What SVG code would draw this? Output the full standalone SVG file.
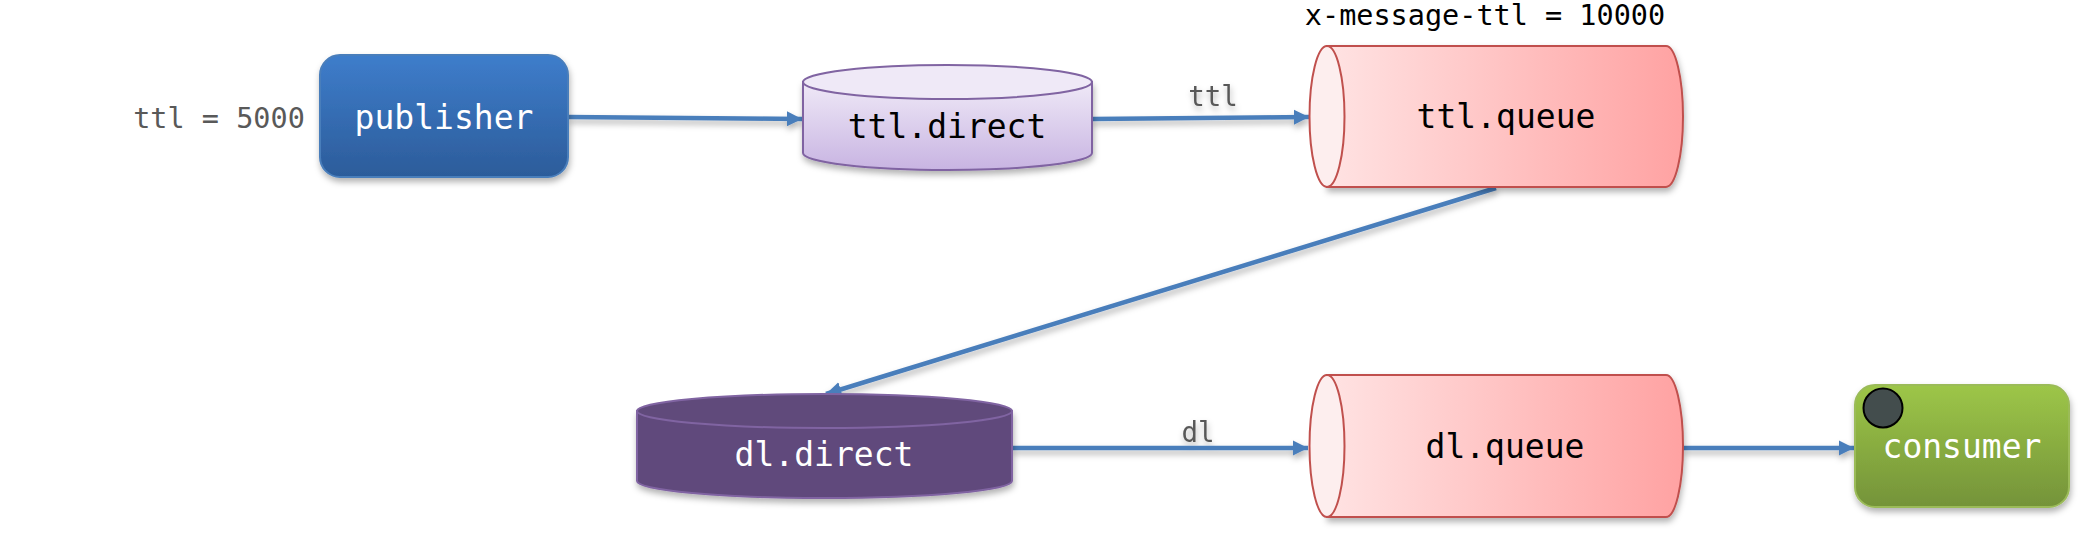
<svg xmlns="http://www.w3.org/2000/svg" width="2092" height="548" viewBox="0 0 2092 548">
<defs>
<linearGradient id="gPub" x1="0" y1="0" x2="0" y2="1"><stop offset="0" stop-color="#3e7dcb"/><stop offset="1" stop-color="#2c5c9a"/></linearGradient>
<linearGradient id="gTd" x1="0" y1="0" x2="0" y2="1"><stop offset="0" stop-color="#efe9f7"/><stop offset="1" stop-color="#c8b4e2"/></linearGradient>
<linearGradient id="gQ" x1="0" y1="0" x2="1" y2="0"><stop offset="0" stop-color="#ffe3e3"/><stop offset="1" stop-color="#ffa2a2"/></linearGradient>
<linearGradient id="gCon" x1="0" y1="0" x2="0" y2="1"><stop offset="0" stop-color="#9dc648"/><stop offset="1" stop-color="#749339"/></linearGradient>
<filter id="sh" x="-10%" y="-10%" width="125%" height="135%"><feDropShadow dx="1" dy="4" stdDeviation="3" flood-color="#000" flood-opacity="0.3"/></filter>
<marker id="ah" viewBox="0 0 10 10" refX="10" refY="5" markerWidth="3.4" markerHeight="3.4" orient="auto" markerUnits="strokeWidth"><path d="M0,0 L10,5 L0,10 z" fill="#4a7ebb"/></marker>
</defs>
<style>
text{font-family:"DejaVu Sans Mono","Liberation Mono",monospace;text-anchor:middle}
.big{font-size:33px}
.lbl{font-size:28.5px;fill:#595959}
.conn{stroke:#4a7ebb;stroke-width:4.5;fill:none;marker-end:url(#ah)}
.q{fill:url(#gQ);stroke:#c0504d;stroke-width:2}
.qe{fill:#fdeeee;stroke:#c0504d;stroke-width:2}
</style>
<g id="connectors" filter="url(#sh)">
<line class="conn" x1="568" y1="117" x2="802" y2="119"/>
<line class="conn" x1="1092" y1="119" x2="1309" y2="117"/>
<line class="conn" x1="1496" y1="188" x2="826" y2="394"/>
<line class="conn" x1="1012" y1="448" x2="1308" y2="448"/>
<line class="conn" x1="1683" y1="448" x2="1854" y2="448"/>
<text class="lbl" x="1213" y="106" style="font-size:27.5px">ttl</text>
<text class="lbl" x="1198" y="442" style="font-size:27.5px">dl</text>
</g>
<g id="ttl-label"><text class="lbl" x="219" y="128">ttl = 5000</text></g>
<g id="publisher">
<rect x="320" y="55" width="248" height="122" rx="20" fill="url(#gPub)" stroke="#4a7ebb" stroke-width="2" filter="url(#sh)"/>
<text class="big" x="444" y="129" fill="#fff">publisher</text>
</g>
<g id="ttl.direct">
<path d="M803,82 L803,153 A144.5,17 0 0 0 1092,153 L1092,82 Z" fill="url(#gTd)" stroke="#8064a2" stroke-width="2" filter="url(#sh)"/>
<ellipse cx="947.5" cy="82" rx="144.5" ry="17" fill="#efe9f7" stroke="#8064a2" stroke-width="2"/>
<text class="big" x="947" y="138" fill="#000">ttl.direct</text>
</g>
<g id="ttl.queue">
<text class="lbl" x="1485" y="25" style="fill:#000;font-size:28.5px">x-message-ttl = 10000</text>
<path d="M1327,46 L1666,46 A17,70.5 0 0 1 1666,187 L1327,187 Z" class="q" filter="url(#sh)"/>
<ellipse cx="1327" cy="116.5" rx="17.5" ry="70.5" class="qe"/>
<text class="big" x="1506" y="128" fill="#000">ttl.queue</text>
</g>
<g id="dl.direct">
<path d="M637,411 L637,481 A187.5,17 0 0 0 1012,481 L1012,411 Z" fill="#604a7b" stroke="#8064a2" stroke-width="2" filter="url(#sh)"/>
<ellipse cx="824.5" cy="411" rx="187.5" ry="17" fill="#604a7b" stroke="#8064a2" stroke-width="2"/>
<text class="big" x="824" y="466" fill="#fff">dl.direct</text>
</g>
<g id="dl.queue">
<path d="M1327,375 L1666,375 A17,71 0 0 1 1666,517 L1327,517 Z" class="q" filter="url(#sh)"/>
<ellipse cx="1327" cy="446" rx="17.5" ry="71" class="qe"/>
<text class="big" x="1505" y="458" fill="#000">dl.queue</text>
</g>
<g id="consumer">
<rect x="1855" y="385" width="214" height="122" rx="20" fill="url(#gCon)" stroke="#9bbb59" stroke-width="2" filter="url(#sh)"/>
<circle cx="1883" cy="408" r="19.5" fill="#434d4d" stroke="#000" stroke-width="2"/>
<text class="big" x="1962" y="458" fill="#fff">consumer</text>
</g>
</svg>
